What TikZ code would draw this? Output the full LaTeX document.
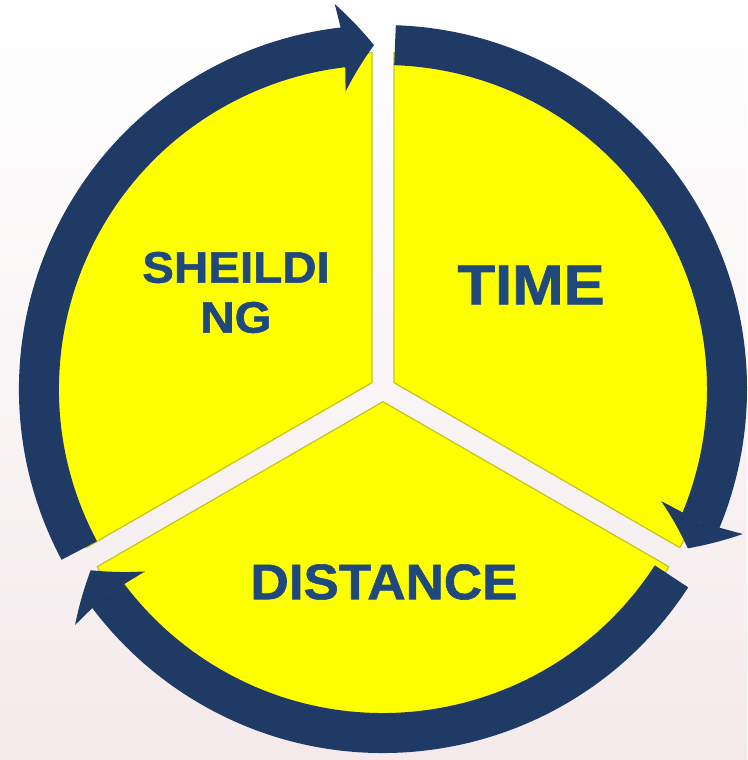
\documentclass[tikz,border=0pt]{standalone}
\usepackage{fontspec}
\setmainfont{Liberation Sans}[BoldFeatures={FakeBold=1.2}]
\usetikzlibrary{arrows.meta,bending,calc}
\definecolor{ringblue}{RGB}{31,58,100}
\definecolor{textblue}{RGB}{31,73,125}
\definecolor{pieyellow}{RGB}{255,255,0}
\definecolor{pieedge}{RGB}{196,196,30}
\definecolor{bgpink}{RGB}{244,234,236}

\begin{document}
\begin{tikzpicture}[x=1pt, y=1pt,
    slice/.style={fill=pieyellow, draw=pieedge, line width=1.2pt, line join=round},
    band/.style={draw=ringblue, line width=40pt,
        -{Stealth[length=34pt, width=88pt, inset=5pt, line width=0pt, bend]}},
    slicetext/.style={text=textblue, inner sep=0pt, align=center}]
    \useasboundingbox (0,0) rectangle (747,760);
    \shade[top color=white, bottom color=bgpink] (0,0) rectangle (747,760);

    \coordinate (c) at (383,371);

    % three yellow slices, pulled apart
    \foreach \mid in {30,150,270}
        \filldraw[slice] ($(c)+(\mid:12.7)$) -- +({\mid-60}:330)
            arc[start angle={\mid-60}, end angle={\mid+60}, radius=330] -- cycle;

    % ring of arrows
    \draw[band] ($(c)+(208:344)$) arc[start angle=208, end angle=91.5, radius=344];
    \draw[band] ($(c)+(88:344)$) arc[start angle=88, end angle=-27.6, radius=344];
    \draw[band] ($(c)+(-33:344)$) arc[start angle=-33, end angle=-148.2, radius=344];

    \node[slicetext, font=\bfseries\fontsize{44}{50}\selectfont, xscale=1.08] (shield) at (236,467.5) {SHEILDI\\NG};
    \node[slicetext, font=\bfseries\fontsize{56}{60}\selectfont, xscale=1.1] (time) at (531,475) {TIME};
    \node[slicetext, font=\bfseries\fontsize{50}{56}\selectfont, xscale=1.06] (dist) at (384,178) {DISTANCE};
\end{tikzpicture}
\end{document}
